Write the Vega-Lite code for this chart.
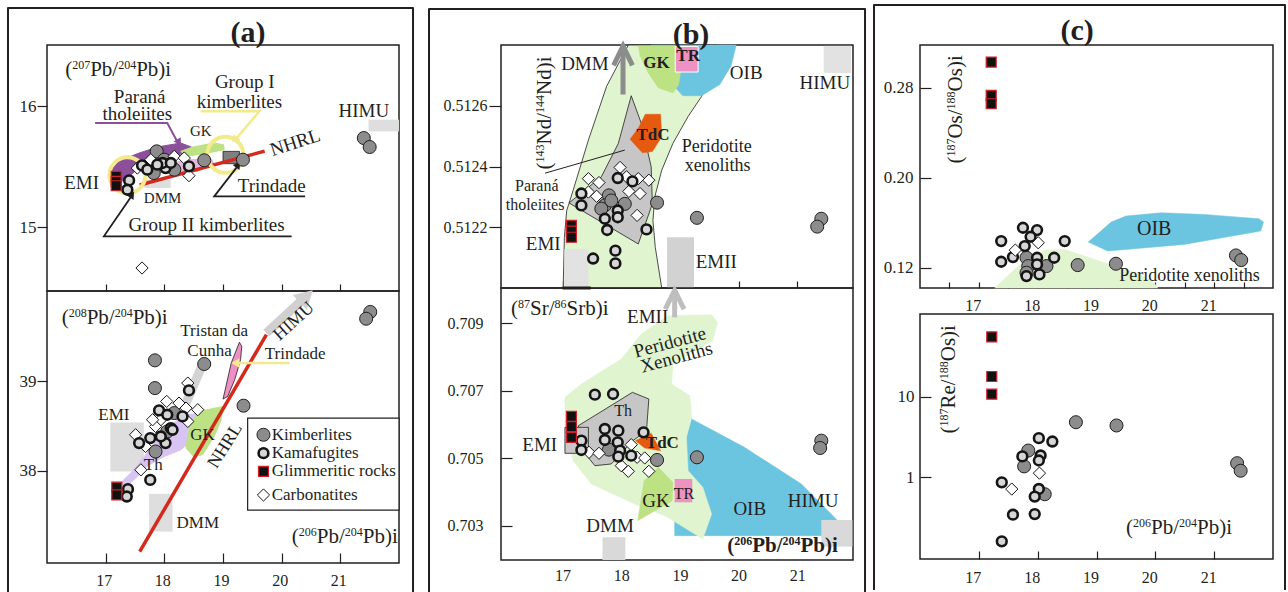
{
"$schema":"https://vega.github.io/schema/vega-lite/v6.json",
"background":"white",
"padding":{"left":6,"top":3,"right":1,"bottom":0},
"config":{
 "font":"Liberation Serif",
 "view":{"stroke":"#231F20","strokeWidth":1.5},
 "axis":{"grid":false,"domain":false,"labelColor":"#231F20","tickColor":"#231F20","tickWidth":1.2,"labelFontSize":16,"labelFont":"Liberation Serif"},
 "text":{"font":"Liberation Serif","fill":"#231F20"}
},
"datasets":{
"aT":[
{"p":"pur","i":0,"x":17.08,"y":15.463},{"p":"pur","i":1,"x":17.22,"y":15.545},{"p":"pur","i":2,"x":17.54,"y":15.609},{"p":"pur","i":3,"x":17.88,"y":15.664},{"p":"pur","i":4,"x":18.28,"y":15.697},{"p":"pur","i":5,"x":18.46,"y":15.664},{"p":"pur","i":6,"x":18.31,"y":15.609},{"p":"pur","i":7,"x":17.94,"y":15.565},{"p":"pur","i":8,"x":17.6,"y":15.504},{"p":"pur","i":9,"x":17.4,"y":15.421},{"p":"pur","i":10,"x":17.19,"y":15.353},{"p":"pur","i":11,"x":17.08,"y":15.38},
{"p":"pink","i":0,"x":17.88,"y":15.504},{"p":"pink","i":1,"x":18.4,"y":15.559},{"p":"pink","i":2,"x":18.8,"y":15.565},{"p":"pink","i":3,"x":18.85,"y":15.526},{"p":"pink","i":4,"x":18.57,"y":15.463},{"p":"pink","i":5,"x":18.05,"y":15.444},
{"p":"gk","i":0,"x":18.28,"y":15.628},{"p":"gk","i":1,"x":18.48,"y":15.664},{"p":"gk","i":2,"x":18.85,"y":15.697},{"p":"gk","i":3,"x":19.01,"y":15.683},{"p":"gk","i":4,"x":19.02,"y":15.642},{"p":"gk","i":5,"x":18.68,"y":15.609},{"p":"gk","i":6,"x":18.37,"y":15.587},
{"r":"gray","x":17.65,"x2":18.11,"y":15.325,"y2":15.394},{"r":"gray","x":21.48,"x2":22.0,"y":15.793,"y2":15.89},{"r":"tri","x":19.0,"x2":19.28,"y":15.526,"y2":15.628},
{"l":"nhrl","i":0,"x":17.58,"y":15.35},{"l":"nhrl","i":1,"x":19.71,"y":15.63},
{"l":"purl","i":0,"x":16.82,"y":15.862},{"l":"purl","i":1,"x":18.05,"y":15.862},{"l":"purl","i":2,"x":18.22,"y":15.71},
{"l":"yel","i":0,"x":18.62,"y":15.959},{"l":"yel","i":1,"x":19.62,"y":15.959},{"l":"yel","i":2,"x":19.22,"y":15.73},
{"l":"trin","i":0,"x":20.4,"y":15.256},{"l":"trin","i":1,"x":18.85,"y":15.256},{"l":"trin","i":2,"x":19.24,"y":15.5},
{"l":"g2","i":0,"x":20.17,"y":14.926},{"l":"g2","i":1,"x":16.97,"y":14.926},{"l":"g2","i":2,"x":17.43,"y":15.25},
{"l":"frame","i":0,"x":15.335,"y":11.978},{"l":"frame","i":1,"x":15.335,"y":16.813},{"l":"frame","i":2,"x":22.239,"y":16.813},{"l":"frame","i":3,"x":22.239,"y":11.978},
{"h":"purl","x":18.25,"y":15.702},{"h":"yel","x":19.2,"y":15.724},{"h":"trin","x":19.26,"y":15.518},{"h":"g2","x":17.45,"y":15.27},
{"e":"emi","x":17.37,"y":15.43},{"e":"g1","x":19.04,"y":15.6},
{"s":"K","x":17.87,"y":15.628},{"s":"K","x":18.68,"y":15.554},{"s":"K","x":19.34,"y":15.559},{"s":"K","x":21.4,"y":15.738},{"s":"K","x":21.5,"y":15.664},{"s":"K","x":17.82,"y":15.449},{"s":"K","x":18.0,"y":15.559},{"s":"K","x":18.17,"y":15.477},
{"s":"M","x":17.4,"y":15.388},{"s":"M","x":17.37,"y":15.311},{"s":"M","x":17.62,"y":15.512},{"s":"M","x":17.71,"y":15.477},{"s":"M","x":18.02,"y":15.49},{"s":"M","x":17.97,"y":15.532},{"s":"M","x":18.42,"y":15.504},{"s":"M","x":17.88,"y":15.518},{"s":"M","x":18.11,"y":15.532},
{"s":"G","x":17.18,"y":15.421},{"s":"G","x":17.18,"y":15.38},{"s":"G","x":17.18,"y":15.344},
{"s":"C","x":17.54,"y":15.49},{"s":"C","x":17.77,"y":15.559},{"s":"C","x":18.17,"y":15.587},{"s":"C","x":18.34,"y":15.573},{"s":"C","x":18.42,"y":15.427},{"s":"C","x":17.62,"y":14.664},
{"k":"pb","t":"(","x":16.31,"y":16.303},{"k":"ps","t":"207","x":16.429,"y":16.303},{"k":"pb","t":"Pb/","x":16.736,"y":16.303},{"k":"ps","t":"204","x":17.213,"y":16.303},{"k":"pb","t":"Pb)i","x":17.52,"y":16.303},
{"k":"lab","t":"Paraná","x":17.58,"y":16.078},{"k":"lab","t":"tholeiites","x":17.54,"y":15.938},{"k":"lab","t":"Group I","x":19.37,"y":16.2},{"k":"lab","t":"kimberlites","x":19.28,"y":16.036},{"k":"lab","t":"HIMU","x":21.4,"y":15.959},{"k":"lab","t":"EMI","x":16.59,"y":15.37},{"k":"lab","t":"Trindade","x":19.83,"y":15.344},{"k":"lab","t":"Group II kimberlites","x":18.72,"y":15.022},
{"k":"sm","t":"GK","x":18.62,"y":15.793},{"k":"sm","t":"DMM","x":17.97,"y":15.242},
{"k":"rot","t":"NHRL","x":20.23,"y":15.7},
{"k":"ttl","t":"(a)","x":19.426,"y":16.61}
],
"aB":[
{"r":"gray","x":17.08,"x2":17.65,"y":37.993,"y2":38.541},{"r":"gray","x":17.74,"x2":18.14,"y":37.321,"y2":37.743},{"r":"leg","x":19.42,"x2":22.0,"y":37.56,"y2":38.59},
{"p":"th","i":0,"x":17.25,"y":37.862},{"p":"th","i":1,"x":17.48,"y":38.011},{"p":"th","i":2,"x":17.68,"y":38.179},{"p":"th","i":3,"x":17.88,"y":38.347},{"p":"th","i":4,"x":18.11,"y":38.515},{"p":"th","i":5,"x":18.37,"y":38.627},{"p":"th","i":6,"x":18.54,"y":38.638},{"p":"th","i":7,"x":18.57,"y":38.571},{"p":"th","i":8,"x":18.42,"y":38.31},{"p":"th","i":9,"x":18.28,"y":38.235},{"p":"th","i":10,"x":18.0,"y":38.16},{"p":"th","i":11,"x":17.71,"y":38.056},{"p":"th","i":12,"x":17.51,"y":37.918},{"p":"th","i":13,"x":17.34,"y":37.817},
{"p":"gk","i":0,"x":18.48,"y":38.571},{"p":"gk","i":1,"x":18.65,"y":38.672},{"p":"gk","i":2,"x":19.0,"y":38.72},{"p":"gk","i":3,"x":18.97,"y":38.571},{"p":"gk","i":4,"x":18.85,"y":38.384},{"p":"gk","i":5,"x":18.65,"y":38.179},{"p":"gk","i":6,"x":18.5,"y":38.16},{"p":"gk","i":7,"x":18.37,"y":38.254},{"p":"gk","i":8,"x":18.42,"y":38.459},
{"p":"trin","i":0,"x":19.0,"y":38.802},{"p":"trin","i":1,"x":19.04,"y":38.914},{"p":"trin","i":2,"x":19.14,"y":39.205},{"p":"trin","i":3,"x":19.28,"y":39.437},{"p":"trin","i":4,"x":19.32,"y":39.392},{"p":"trin","i":5,"x":19.3,"y":39.243},{"p":"trin","i":6,"x":19.2,"y":39.019},{"p":"trin","i":7,"x":19.08,"y":38.832},
{"l":"tdc","i":0,"x":18.37,"y":38.757},{"l":"tdc","i":1,"x":18.65,"y":39.187},
{"l":"himu","i":0,"x":19.74,"y":39.541},{"l":"himu","i":1,"x":20.37,"y":39.922},
{"l":"nhrl","i":0,"x":17.58,"y":37.097},{"l":"nhrl","i":1,"x":19.74,"y":39.522},
{"l":"yel","i":0,"x":20.14,"y":39.205},{"l":"yel","i":1,"x":19.24,"y":39.205},
{"h":"himu","x":20.42,"y":39.95},{"h":"yel","x":19.21,"y":39.205},
{"s":"K","x":17.84,"y":39.235},{"s":"K","x":17.84,"y":38.925},{"s":"K","x":18.68,"y":39.194},{"s":"K","x":19.35,"y":38.728},{"s":"K","x":21.51,"y":39.776},{"s":"K","x":21.44,"y":39.7},{"s":"K","x":18.17,"y":38.646},{"s":"K","x":17.85,"y":38.216},{"s":"K","x":18.05,"y":38.44},{"s":"K","x":19.69,"y":38.403},
{"s":"M","x":18.42,"y":38.899},{"s":"M","x":17.91,"y":38.675},{"s":"M","x":18.05,"y":38.627},{"s":"M","x":18.31,"y":38.608},{"s":"M","x":18.11,"y":38.478},{"s":"M","x":17.76,"y":38.366},{"s":"M","x":17.57,"y":38.31},{"s":"M","x":18.02,"y":38.31},{"s":"M","x":17.94,"y":38.384},{"s":"M","x":17.76,"y":37.899},{"s":"M","x":17.38,"y":37.795},{"s":"M","x":17.36,"y":37.713},{"s":"M","x":18.14,"y":38.459},{"s":"M","x":19.69,"y":38.198},
{"s":"G","x":17.19,"y":37.817},{"s":"G","x":17.19,"y":37.731},{"s":"G","x":19.69,"y":37.993},
{"s":"C","x":18.4,"y":38.981},{"s":"C","x":18.04,"y":38.776},{"s":"C","x":18.25,"y":38.757},{"s":"C","x":18.37,"y":38.701},{"s":"C","x":18.57,"y":38.683},{"s":"C","x":18.4,"y":38.552},{"s":"C","x":17.94,"y":38.571},{"s":"C","x":17.85,"y":38.496},{"s":"C","x":17.51,"y":38.403},{"s":"C","x":17.68,"y":38.272},{"s":"C","x":17.6,"y":38.011},{"s":"C","x":17.8,"y":38.571},{"s":"C","x":19.69,"y":37.73},
{"k":"pb","t":"(","x":16.25,"y":39.709},{"k":"ps","t":"208","x":16.369,"y":39.709},{"k":"pb","t":"Pb/","x":16.676,"y":39.709},{"k":"ps","t":"204","x":17.153,"y":39.709},{"k":"pb","t":"Pb)i","x":17.46,"y":39.709},
{"k":"pb","t":"(","x":20.173,"y":37.265},{"k":"ps","t":"206","x":20.292,"y":37.265},{"k":"pb","t":"Pb/","x":20.599,"y":37.265},{"k":"ps","t":"204","x":21.076,"y":37.265},{"k":"pb","t":"Pb)i","x":21.383,"y":37.265},
{"k":"lab","t":"Tristan da","x":18.85,"y":39.56},{"k":"lab","t":"Cunha","x":18.77,"y":39.336},{"k":"lab","t":"Trindade","x":20.23,"y":39.31},{"k":"lab","t":"GK","x":18.65,"y":38.403},{"k":"lab","t":"EMI","x":17.14,"y":38.627},{"k":"lab","t":"DMM","x":18.57,"y":37.414},{"k":"lab","t":"Th","x":17.81,"y":38.067},
{"k":"leg","t":"Kimberlites","x":19.83,"y":38.403},{"k":"leg","t":"Kamafugites","x":19.83,"y":38.198},{"k":"leg","t":"Glimmeritic rocks","x":19.83,"y":37.993},{"k":"leg","t":"Carbonatites","x":19.83,"y":37.73},
{"k":"rot1","t":"HIMU","x":20.21,"y":39.67},
{"k":"rot2","t":"NHRL","x":19.04,"y":38.28}
],
"bT":[
{"p":"per","i":0,"x":17.01,"y":0.512},{"p":"per","i":1,"x":17.03,"y":0.512167},{"p":"per","i":2,"x":17.07,"y":0.512255},{"p":"per","i":3,"x":17.18,"y":0.512322},{"p":"per","i":4,"x":17.44,"y":0.512487},{"p":"per","i":5,"x":17.75,"y":0.512664},{"p":"per","i":6,"x":18.12,"y":0.5128},{"p":"per","i":7,"x":19.65,"y":0.5128},{"p":"per","i":8,"x":19.37,"y":0.512631},{"p":"per","i":9,"x":19.14,"y":0.512565},{"p":"per","i":10,"x":18.88,"y":0.512476},{"p":"per","i":11,"x":18.69,"y":0.512388},{"p":"per","i":12,"x":18.57,"y":0.512299},{"p":"per","i":13,"x":18.54,"y":0.512222},{"p":"per","i":14,"x":18.58,"y":0.512134},{"p":"per","i":15,"x":18.69,"y":0.512},
{"p":"oib","i":0,"x":18.51,"y":0.5128},{"p":"oib","i":1,"x":19.96,"y":0.5128},{"p":"oib","i":2,"x":19.87,"y":0.51273},{"p":"oib","i":3,"x":19.68,"y":0.51267},{"p":"oib","i":4,"x":19.37,"y":0.512633},{"p":"oib","i":5,"x":19.05,"y":0.512633},{"p":"oib","i":6,"x":18.9,"y":0.512664},{"p":"oib","i":7,"x":18.74,"y":0.512736},{"p":"oib","i":8,"x":18.57,"y":0.512791},
{"p":"gk","i":0,"x":18.29,"y":0.512797},{"p":"gk","i":1,"x":18.92,"y":0.512797},{"p":"gk","i":2,"x":19.03,"y":0.512736},{"p":"gk","i":3,"x":18.98,"y":0.51267},{"p":"gk","i":4,"x":18.88,"y":0.512642},{"p":"gk","i":5,"x":18.63,"y":0.512659},{"p":"gk","i":6,"x":18.46,"y":0.512708},{"p":"gk","i":7,"x":18.32,"y":0.512764},
{"p":"th","i":0,"x":18.17,"y":0.512633},{"p":"th","i":1,"x":18.34,"y":0.512543},{"p":"th","i":2,"x":18.51,"y":0.512399},{"p":"th","i":3,"x":18.53,"y":0.512277},{"p":"th","i":4,"x":18.29,"y":0.512145},{"p":"th","i":5,"x":17.11,"y":0.51228},{"p":"th","i":6,"x":17.66,"y":0.512366},{"p":"th","i":7,"x":17.95,"y":0.512476},
{"p":"tdc","i":0,"x":18.41,"y":0.512572},{"p":"tdc","i":1,"x":18.67,"y":0.512572},{"p":"tdc","i":2,"x":18.69,"y":0.512498},{"p":"tdc","i":3,"x":18.53,"y":0.512449},{"p":"tdc","i":4,"x":18.36,"y":0.512445},{"p":"tdc","i":5,"x":18.15,"y":0.51249},{"p":"tdc","i":6,"x":18.29,"y":0.512526},
{"r":"tr","x":18.92,"x2":19.31,"y":0.512711,"y2":0.512795},
{"r":"gray","x":17.03,"x2":17.44,"y":0.512,"y2":0.512128},{"r":"gray","x":21.45,"x2":21.92,"y":0.512708,"y2":0.512797},
{"r":"dark","x":18.78,"x2":19.24,"y":0.512,"y2":0.512167},
{"l":"dmm","i":0,"x":18.03,"y":0.512637},{"l":"dmm","i":1,"x":18.03,"y":0.512785},
{"l":"dmmc","i":0,"x":17.87,"y":0.512733},{"l":"dmmc","i":1,"x":18.03,"y":0.512797},{"l":"dmmc","i":2,"x":18.19,"y":0.512733},
{"l":"ptr","i":0,"x":16.7,"y":0.512378},{"l":"ptr","i":1,"x":18.06,"y":0.512454},
{"l":"bar","i":0,"x":17.0,"y":0.512},{"l":"bar","i":1,"x":17.48,"y":0.512},
{"l":"frame","i":0,"x":14.723,"y":0.5109926},{"l":"frame","i":1,"x":14.723,"y":0.5129185},{"l":"frame","i":2,"x":22.155,"y":0.5129185},{"l":"frame","i":3,"x":22.155,"y":0.5109926},
{"s":"K","x":18.61,"y":0.512281},{"s":"K","x":19.29,"y":0.512231},{"s":"K","x":21.41,"y":0.512228},{"s":"K","x":21.34,"y":0.512202},{"s":"K","x":17.79,"y":0.512305},{"s":"K","x":17.72,"y":0.512272},{"s":"K","x":18.06,"y":0.512277},{"s":"K","x":17.83,"y":0.512288},{"s":"K","x":17.66,"y":0.512261},
{"s":"M","x":17.32,"y":0.512311},{"s":"M","x":17.32,"y":0.512272},{"s":"M","x":17.94,"y":0.512362},{"s":"M","x":18.19,"y":0.512351},{"s":"M","x":17.94,"y":0.512255},{"s":"M","x":17.94,"y":0.512233},{"s":"M","x":17.72,"y":0.512228},{"s":"M","x":17.76,"y":0.512191},{"s":"M","x":18.43,"y":0.512193},{"s":"M","x":17.52,"y":0.512097},{"s":"M","x":17.9,"y":0.512123},{"s":"M","x":17.9,"y":0.512081},
{"s":"G","x":17.15,"y":0.512206},{"s":"G","x":17.15,"y":0.512187},{"s":"G","x":17.15,"y":0.512167},
{"s":"C","x":17.44,"y":0.51236},{"s":"C","x":17.62,"y":0.512347},{"s":"C","x":17.44,"y":0.512316},{"s":"C","x":17.58,"y":0.512302},{"s":"C","x":17.98,"y":0.512397},{"s":"C","x":18.09,"y":0.512366},{"s":"C","x":18.13,"y":0.512318},{"s":"C","x":18.32,"y":0.512311},{"s":"C","x":18.47,"y":0.512355},{"s":"C","x":18.29,"y":0.51236},{"s":"C","x":18.27,"y":0.512239},
{"k":"rb","t":"(","x":16.7,"y":0.51239},{"k":"rs","t":"143","x":16.7,"y":0.512413},{"k":"rb","t":"Nd/","x":16.7,"y":0.5124723},{"k":"rs","t":"144","x":16.7,"y":0.512576},{"k":"rb","t":"Nd)i","x":16.7,"y":0.5126353},
{"k":"lab","t":"DMM","x":17.38,"y":0.512736},{"k":"lab","t":"OIB","x":20.13,"y":0.512708},{"k":"lab","t":"HIMU","x":21.47,"y":0.512675},{"k":"lab","t":"EMI","x":16.67,"y":0.512145},{"k":"lab","t":"EMII","x":19.62,"y":0.512084},
{"k":"bold","t":"GK","x":18.6,"y":0.512741},{"k":"bold","t":"TR","x":19.14,"y":0.512764},{"k":"bold","t":"TdC","x":18.54,"y":0.512504},
{"k":"labl","t":"Peridotite","x":19.03,"y":0.512463},{"k":"labl","t":"xenoliths","x":19.08,"y":0.512402},
{"k":"sm","t":"Paraná","x":16.56,"y":0.512336},{"k":"sm","t":"tholeiites","x":16.53,"y":0.512274},
{"k":"ttl","t":"(b)","x":19.189,"y":0.512833}
],
"bB":[
{"p":"oib","i":0,"x":19.2,"y":0.706164},{"p":"oib","i":1,"x":20.1,"y":0.705323},{"p":"oib","i":2,"x":21.07,"y":0.704236},{"p":"oib","i":3,"x":21.69,"y":0.703148},{"p":"oib","i":4,"x":21.69,"y":0.702703},{"p":"oib","i":5,"x":18.91,"y":0.702703},{"p":"oib","i":6,"x":18.91,"y":0.70384},{"p":"oib","i":7,"x":19.11,"y":0.704631},{"p":"oib","i":8,"x":19.11,"y":0.70562},
{"p":"per","i":0,"x":17.04,"y":0.706806},{"p":"per","i":1,"x":17.32,"y":0.707202},{"p":"per","i":2,"x":18.0,"y":0.707943},{"p":"per","i":3,"x":18.34,"y":0.708684},{"p":"per","i":4,"x":18.8,"y":0.709228},{"p":"per","i":5,"x":19.54,"y":0.709258},{"p":"per","i":6,"x":19.64,"y":0.70903},{"p":"per","i":7,"x":19.56,"y":0.708487},{"p":"per","i":8,"x":19.25,"y":0.70819},{"p":"per","i":9,"x":18.88,"y":0.707795},{"p":"per","i":10,"x":18.86,"y":0.707202},{"p":"per","i":11,"x":19.17,"y":0.706856},{"p":"per","i":12,"x":19.2,"y":0.706213},{"p":"per","i":13,"x":19.11,"y":0.70562},{"p":"per","i":14,"x":19.14,"y":0.704631},{"p":"per","i":15,"x":19.39,"y":0.704137},{"p":"per","i":16,"x":19.54,"y":0.703346},{"p":"per","i":17,"x":19.39,"y":0.702605},{"p":"per","i":18,"x":18.74,"y":0.703297},{"p":"per","i":19,"x":18.23,"y":0.703643},{"p":"per","i":20,"x":17.49,"y":0.704236},{"p":"per","i":21,"x":17.18,"y":0.704928},{"p":"per","i":22,"x":17.04,"y":0.705916},
{"p":"gk","i":0,"x":18.28,"y":0.703148},{"p":"gk","i":1,"x":18.39,"y":0.704335},{"p":"gk","i":2,"x":18.63,"y":0.70473},{"p":"gk","i":3,"x":18.88,"y":0.704285},{"p":"gk","i":4,"x":18.87,"y":0.703741},
{"p":"th","i":0,"x":17.27,"y":0.705966},{"p":"th","i":1,"x":18.19,"y":0.706954},{"p":"th","i":2,"x":18.47,"y":0.706757},{"p":"th","i":3,"x":18.43,"y":0.705817},{"p":"th","i":4,"x":18.2,"y":0.705521},{"p":"th","i":5,"x":17.83,"y":0.704829},{"p":"th","i":6,"x":17.55,"y":0.704779},{"p":"th","i":7,"x":17.32,"y":0.705274},
{"p":"tdc","i":0,"x":18.24,"y":0.705521},{"p":"tdc","i":1,"x":18.51,"y":0.705738},{"p":"tdc","i":2,"x":18.67,"y":0.705224},{"p":"tdc","i":3,"x":18.4,"y":0.705303},
{"r":"tr","x":18.91,"x2":19.21,"y":0.703692,"y2":0.704384},
{"r":"emi","x":17.04,"x2":17.44,"y":0.705145,"y2":0.705916},
{"r":"gray","x":17.68,"x2":18.07,"y":0.70198,"y2":0.702654},{"r":"gray","x":21.41,"x2":21.94,"y":0.702377,"y2":0.703168},
{"l":"emii","i":0,"x":18.91,"y":0.709179},{"l":"emii","i":1,"x":18.91,"y":0.70995},
{"l":"emiic","i":0,"x":18.75,"y":0.709426},{"l":"emiic","i":1,"x":18.91,"y":0.70998},{"l":"emiic","i":2,"x":19.07,"y":0.709426},
{"s":"K","x":17.79,"y":0.705254},{"s":"K","x":18.61,"y":0.704948},{"s":"K","x":19.29,"y":0.705027},{"s":"K","x":21.41,"y":0.705521},{"s":"K","x":21.39,"y":0.705303},
{"s":"M","x":17.55,"y":0.706885},{"s":"M","x":17.86,"y":0.706905},{"s":"M","x":17.72,"y":0.705867},{"s":"M","x":17.95,"y":0.705817},{"s":"M","x":18.38,"y":0.705768},{"s":"M","x":17.32,"y":0.705521},{"s":"M","x":17.32,"y":0.705244},{"s":"M","x":17.72,"y":0.705541},{"s":"M","x":17.94,"y":0.705472},{"s":"M","x":17.98,"y":0.705224},{"s":"M","x":17.95,"y":0.705046},{"s":"M","x":18.17,"y":0.705076},
{"s":"G","x":17.15,"y":0.706243},{"s":"G","x":17.15,"y":0.705936},{"s":"G","x":17.15,"y":0.70562},
{"s":"C","x":17.45,"y":0.705175},{"s":"C","x":17.62,"y":0.705145},{"s":"C","x":18.17,"y":0.705402},{"s":"C","x":18.27,"y":0.705027},{"s":"C","x":18.4,"y":0.705007},{"s":"C","x":18.0,"y":0.704779},{"s":"C","x":18.12,"y":0.704611},{"s":"C","x":18.47,"y":0.704611},
{"k":"pb","t":"(","x":16.12,"y":0.709426},{"k":"ps","t":"87","x":16.239,"y":0.709426},{"k":"pb","t":"Sr/","x":16.444,"y":0.709426},{"k":"ps","t":"86","x":16.862,"y":0.709426},{"k":"pb","t":"Srb)i","x":17.066,"y":0.709426},
{"k":"pbb","t":"(","x":19.805,"y":0.702407},{"k":"psb","t":"206","x":19.924,"y":0.702407},{"k":"pbb","t":"Pb/","x":20.231,"y":0.702407},{"k":"psb","t":"204","x":20.748,"y":0.702407},{"k":"pbb","t":"Pb)i","x":21.054,"y":0.702407},
{"k":"lab","t":"EMII","x":18.45,"y":0.709179},{"k":"lab","t":"EMI","x":16.61,"y":0.705402},{"k":"lab","t":"GK","x":18.59,"y":0.703722},{"k":"lab","t":"OIB","x":20.19,"y":0.703494},{"k":"lab","t":"HIMU","x":21.27,"y":0.703741},{"k":"lab","t":"DMM","x":17.81,"y":0.703},
{"k":"sm","t":"Th","x":18.03,"y":0.706391},{"k":"sm","t":"TR","x":19.07,"y":0.703939},
{"k":"bold","t":"TdC","x":18.7,"y":0.705442},
{"k":"rot","t":"Peridotite","x":18.83,"y":0.708437},{"k":"rot","t":"Xenoliths","x":18.94,"y":0.707992}
],
"cT":[
{"p":"per","i":0,"x":17.27,"y":0.102},{"p":"per","i":1,"x":17.67,"y":0.12148},{"p":"per","i":2,"x":18.12,"y":0.1357},{"p":"per","i":3,"x":18.46,"y":0.1363},{"p":"per","i":4,"x":19.14,"y":0.12444},{"p":"per","i":5,"x":19.7,"y":0.11496},{"p":"per","i":6,"x":19.98,"y":0.10667},{"p":"per","i":7,"x":20.04,"y":0.102},
{"p":"oib","i":0,"x":18.86,"y":0.14282},{"p":"oib","i":1,"x":19.25,"y":0.16059},{"p":"oib","i":2,"x":19.5,"y":0.16593},{"p":"oib","i":3,"x":20.1,"y":0.16889},{"p":"oib","i":4,"x":20.83,"y":0.16741},{"p":"oib","i":5,"x":21.76,"y":0.16356},{"p":"oib","i":6,"x":21.84,"y":0.16059},{"p":"oib","i":7,"x":21.79,"y":0.15259},{"p":"oib","i":8,"x":20.49,"y":0.14074},{"p":"oib","i":9,"x":19.19,"y":0.13481},
{"l":"frame","i":0,"x":15.218,"y":-0.16644},{"l":"frame","i":1,"x":15.218,"y":0.35356},{"l":"frame","i":2,"x":22.204,"y":0.35356},{"l":"frame","i":3,"x":22.204,"y":-0.16644},
{"s":"G","x":17.21,"y":0.30282},{"s":"G","x":17.21,"y":0.27319},{"s":"G","x":17.21,"y":0.26578},
{"s":"K","x":18.68,"y":0.12237},{"s":"K","x":19.33,"y":0.12356},{"s":"K","x":21.37,"y":0.13096},{"s":"K","x":21.46,"y":0.12681},{"s":"K","x":17.81,"y":0.12889},{"s":"K","x":17.84,"y":0.12148},{"s":"K","x":18.15,"y":0.12148},{"s":"K","x":17.81,"y":0.11556},
{"s":"M","x":17.38,"y":0.1437},{"s":"M","x":17.75,"y":0.15556},{"s":"M","x":17.99,"y":0.15348},{"s":"M","x":18.46,"y":0.1437},{"s":"M","x":17.78,"y":0.13926},{"s":"M","x":17.38,"y":0.12533},{"s":"M","x":17.58,"y":0.12948},{"s":"M","x":17.99,"y":0.12889},{"s":"M","x":18.28,"y":0.12889},{"s":"M","x":17.99,"y":0.12296},{"s":"M","x":18.03,"y":0.11407},{"s":"M","x":17.81,"y":0.11259},{"s":"M","x":17.88,"y":0.14756},
{"s":"C","x":17.62,"y":0.1357},{"s":"C","x":18.01,"y":0.14222},
{"k":"rb","t":"(","x":16.62,"y":0.21256},{"k":"rs","t":"187","x":16.62,"y":0.21878},{"k":"rb","t":"Os/","x":16.62,"y":0.23478},{"k":"rs","t":"188","x":16.62,"y":0.26074},{"k":"rb","t":"Os)i","x":16.62,"y":0.27674},
{"k":"lab","t":"OIB","x":19.98,"y":0.15407},
{"k":"sm","t":"Peridotite xenoliths","x":20.58,"y":0.11259},
{"k":"ttl","t":"(c)","x":18.669,"y":0.33044}
],
"cB":[
{"s":"K","x":18.65,"y":4.82},{"s":"K","x":19.34,"y":4.39},{"s":"K","x":21.39,"y":1.5},{"s":"K","x":21.45,"y":1.21},{"s":"K","x":17.84,"y":2.15},{"s":"K","x":17.77,"y":1.37},{"s":"K","x":18.12,"y":0.62},
{"s":"M","x":18.02,"y":3.06},{"s":"M","x":18.25,"y":2.78},{"s":"M","x":17.74,"y":1.82},{"s":"M","x":18.05,"y":1.87},{"s":"M","x":18.02,"y":1.62},{"s":"M","x":17.39,"y":0.87},{"s":"M","x":18.02,"y":0.72},{"s":"M","x":17.95,"y":0.58},{"s":"M","x":17.58,"y":0.346},{"s":"M","x":17.95,"y":0.352},{"s":"M","x":17.39,"y":0.162},
{"s":"G","x":17.22,"y":54.6},{"s":"G","x":17.22,"y":17.7},{"s":"G","x":17.22,"y":10.7},
{"s":"C","x":17.56,"y":0.718},{"s":"C","x":18.03,"y":1.13},
{"k":"rb","t":"(","x":16.49,"y":3.499},{"k":"rs","t":"187","x":16.49,"y":4.272},{"k":"rb","t":"Re/","x":16.49,"y":7.129},{"k":"rs","t":"188","x":16.49,"y":16.37},{"k":"rb","t":"Os)i","x":16.49,"y":27.33},
{"k":"pb","t":"(","x":19.503,"y":0.237},{"k":"ps","t":"206","x":19.622,"y":0.237},{"k":"pb","t":"Pb/","x":19.928,"y":0.237},{"k":"ps","t":"204","x":20.404,"y":0.237},{"k":"pb","t":"Pb)i","x":20.71,"y":0.237}
]
},
"hconcat":[
{"hconcat":[
 {"vconcat":[
  {"width":352,"height":246,"data":{"name":"aT"},
   "encoding":{
    "x":{"field":"x","type":"quantitative","title":null,"scale":{"domain":[16,22],"nice":false,"zero":false},"axis":{"values":[17,18,19,20,21],"labels":false,"tickSize":-7}},
    "y":{"field":"y","type":"quantitative","title":null,"scale":{"domain":[14.474,16.507],"nice":false,"zero":false},"axis":{"values":[15,16],"tickSize":10,"labelPadding":1,"labelFontSize":17}}},
   "layer":[
    {"transform":[{"filter":"datum.p==='pur'"}],"mark":{"type":"line","interpolate":"linear-closed","fill":"#8C4F9A","stroke":"#8C4F9A","strokeWidth":1},"encoding":{"order":{"field":"i","type":"quantitative"}}},
    {"transform":[{"filter":"datum.p==='pink'"}],"mark":{"type":"line","interpolate":"linear-closed","fill":"#E6B8E0","stroke":"#E6B8E0","strokeWidth":1},"encoding":{"order":{"field":"i","type":"quantitative"}}},
    {"transform":[{"filter":"datum.p==='gk'"}],"mark":{"type":"line","interpolate":"linear-closed","fill":"#BDE283","stroke":"#BDE283","strokeWidth":1},"encoding":{"order":{"field":"i","type":"quantitative"}}},
    {"transform":[{"filter":"datum.r==='gray'"}],"mark":{"type":"rect","fill":"#DEDEDE"},"encoding":{"x2":{"field":"x2"},"y2":{"field":"y2"}}},
    {"transform":[{"filter":"datum.r==='tri'"}],"mark":{"type":"rect","fill":"#808080","stroke":"#231F20","strokeWidth":0.8},"encoding":{"x2":{"field":"x2"},"y2":{"field":"y2"}}},
    {"transform":[{"filter":"datum.l==='nhrl'"}],"mark":{"type":"line","stroke":"#D42A1E","strokeWidth":3.5},"encoding":{"order":{"field":"i","type":"quantitative"}}},
    {"transform":[{"filter":"datum.e"}],"mark":{"type":"point","shape":"circle","filled":false,"stroke":"#F2EA8C","strokeWidth":4,"size":1300,"opacity":1}},
    {"transform":[{"filter":"datum.l==='purl'"}],"mark":{"type":"line","stroke":"#8C4F9A","strokeWidth":2},"encoding":{"order":{"field":"i","type":"quantitative"}}},
    {"transform":[{"filter":"datum.l==='yel'"}],"mark":{"type":"line","stroke":"#F2EA8C","strokeWidth":2.5},"encoding":{"order":{"field":"i","type":"quantitative"}}},
    {"transform":[{"filter":"datum.l==='trin'||datum.l==='g2'"}],"mark":{"type":"line","stroke":"#231F20","strokeWidth":1.8},"encoding":{"detail":{"field":"l"},"order":{"field":"i","type":"quantitative"}}},
    {"transform":[{"filter":"datum.l==='frame'"}],"mark":{"type":"line","stroke":"#231F20","strokeWidth":2,"strokeJoin":"round"},"encoding":{"order":{"field":"i","type":"quantitative"}}},
    {"transform":[{"filter":"datum.h==='purl'"}],"mark":{"type":"point","shape":"triangle-up","filled":true,"fill":"#8C4F9A","strokeWidth":0,"size":70,"angle":149,"opacity":1}},
    {"transform":[{"filter":"datum.h==='yel'"}],"mark":{"type":"point","shape":"triangle-up","filled":true,"fill":"#F2EA8C","strokeWidth":0,"size":70,"angle":221,"opacity":1}},
    {"transform":[{"filter":"datum.h==='trin'"}],"mark":{"type":"point","shape":"triangle-up","filled":true,"fill":"#231F20","strokeWidth":0,"size":70,"angle":37,"opacity":1}},
    {"transform":[{"filter":"datum.h==='g2'"}],"mark":{"type":"point","shape":"triangle-up","filled":true,"fill":"#231F20","strokeWidth":0,"size":70,"angle":34,"opacity":1}},
    {"transform":[{"filter":"datum.s==='K'"}],"mark":{"type":"point","shape":"circle","filled":true,"fill":"#8C8C8C","stroke":"#231F20","strokeWidth":1,"size":170,"opacity":1}},
    {"transform":[{"filter":"datum.s==='C'"}],"mark":{"type":"point","shape":"diamond","filled":true,"fill":"#FFFFFF","stroke":"#151515","strokeWidth":1,"size":150,"opacity":1}},
    {"transform":[{"filter":"datum.s==='M'"}],"mark":{"type":"point","shape":"circle","filled":true,"fill":"#D6D6D6","stroke":"#151515","strokeWidth":2.6,"size":95,"opacity":1}},
    {"transform":[{"filter":"datum.s==='G'"}],"mark":{"type":"point","shape":"square","filled":true,"fill":"#111111","stroke":"#D0202A","strokeWidth":1.2,"size":100,"opacity":1}},
    {"transform":[{"filter":"datum.k==='pb'"}],"mark":{"type":"text","fontSize":21,"align":"left","baseline":"middle"},"encoding":{"text":{"field":"t"}}},
    {"transform":[{"filter":"datum.k==='ps'"}],"mark":{"type":"text","fontSize":12,"align":"left","baseline":"middle","dy":-5},"encoding":{"text":{"field":"t"}}},
    {"transform":[{"filter":"datum.k==='lab'"}],"mark":{"type":"text","fontSize":19,"align":"center","baseline":"middle"},"encoding":{"text":{"field":"t"}}},
    {"transform":[{"filter":"datum.k==='sm'"}],"mark":{"type":"text","fontSize":15,"align":"center","baseline":"middle"},"encoding":{"text":{"field":"t"}}},
    {"transform":[{"filter":"datum.k==='rot'"}],"mark":{"type":"text","fontSize":19,"align":"center","baseline":"middle","angle":342},"encoding":{"text":{"field":"t"}}},
    {"transform":[{"filter":"datum.k==='ttl'"}],"mark":{"type":"text","fontSize":30,"fontWeight":"bold","align":"center","baseline":"middle"},"encoding":{"text":{"field":"t"}}}
   ]},
  {"width":352,"height":272,"data":{"name":"aB"},
   "encoding":{
    "x":{"field":"x","type":"quantitative","title":null,"scale":{"domain":[16,22],"nice":false,"zero":false},"axis":{"values":[17,18,19,20,21],"tickSize":-10,"labelPadding":19,"labelOffset":-2}},
    "y":{"field":"y","type":"quantitative","title":null,"scale":{"domain":[36.97,40.01],"nice":false,"zero":false},"axis":{"values":[38,39],"tickSize":10,"labelPadding":1,"labelFontSize":17}}},
   "layer":[
    {"transform":[{"filter":"datum.r==='gray'"}],"mark":{"type":"rect","fill":"#DEDEDE"},"encoding":{"x2":{"field":"x2"},"y2":{"field":"y2"}}},
    {"transform":[{"filter":"datum.p==='th'"}],"mark":{"type":"line","interpolate":"linear-closed","fill":"#D8C4F3","stroke":"#D8C4F3","strokeWidth":1},"encoding":{"order":{"field":"i","type":"quantitative"}}},
    {"transform":[{"filter":"datum.l==='tdc'"}],"mark":{"type":"line","stroke":"#D3D3D3","strokeWidth":9},"encoding":{"order":{"field":"i","type":"quantitative"}}},
    {"transform":[{"filter":"datum.p==='trin'"}],"mark":{"type":"line","interpolate":"linear-closed","fill":"#EE90C4","stroke":"#231F20","strokeWidth":0.8},"encoding":{"order":{"field":"i","type":"quantitative"}}},
    {"transform":[{"filter":"datum.p==='gk'"}],"mark":{"type":"line","interpolate":"linear-closed","fill":"#BDE283","stroke":"#BDE283","strokeWidth":1},"encoding":{"order":{"field":"i","type":"quantitative"}}},
    {"transform":[{"filter":"datum.l==='himu'"}],"mark":{"type":"line","stroke":"#D0D0D0","strokeWidth":9},"encoding":{"order":{"field":"i","type":"quantitative"}}},
    {"transform":[{"filter":"datum.h==='himu'"}],"mark":{"type":"point","shape":"triangle-up","filled":true,"fill":"#D0D0D0","strokeWidth":0,"size":420,"angle":47,"opacity":1}},
    {"transform":[{"filter":"datum.l==='nhrl'"}],"mark":{"type":"line","stroke":"#D42A1E","strokeWidth":3.5},"encoding":{"order":{"field":"i","type":"quantitative"}}},
    {"transform":[{"filter":"datum.l==='yel'"}],"mark":{"type":"line","stroke":"#F2EA8C","strokeWidth":2.5},"encoding":{"order":{"field":"i","type":"quantitative"}}},
    {"transform":[{"filter":"datum.h==='yel'"}],"mark":{"type":"point","shape":"triangle-left","filled":true,"fill":"#F2EA8C","strokeWidth":0,"size":90,"opacity":1}},
    {"transform":[{"filter":"datum.r==='leg'"}],"mark":{"type":"rect","fill":"#FFFFFF","stroke":"#231F20","strokeWidth":1.2},"encoding":{"x2":{"field":"x2"},"y2":{"field":"y2"}}},
    {"transform":[{"filter":"datum.s==='K'"}],"mark":{"type":"point","shape":"circle","filled":true,"fill":"#8C8C8C","stroke":"#231F20","strokeWidth":1,"size":170,"opacity":1}},
    {"transform":[{"filter":"datum.s==='C'"}],"mark":{"type":"point","shape":"diamond","filled":true,"fill":"#FFFFFF","stroke":"#151515","strokeWidth":1,"size":150,"opacity":1}},
    {"transform":[{"filter":"datum.s==='M'"}],"mark":{"type":"point","shape":"circle","filled":true,"fill":"#D6D6D6","stroke":"#151515","strokeWidth":2.6,"size":95,"opacity":1}},
    {"transform":[{"filter":"datum.s==='G'"}],"mark":{"type":"point","shape":"square","filled":true,"fill":"#111111","stroke":"#D0202A","strokeWidth":1.2,"size":100,"opacity":1}},
    {"transform":[{"filter":"datum.k==='pb'"}],"mark":{"type":"text","fontSize":21,"align":"left","baseline":"middle"},"encoding":{"text":{"field":"t"}}},
    {"transform":[{"filter":"datum.k==='ps'"}],"mark":{"type":"text","fontSize":12,"align":"left","baseline":"middle","dy":-5},"encoding":{"text":{"field":"t"}}},
    {"transform":[{"filter":"datum.k==='lab'"}],"mark":{"type":"text","fontSize":17,"align":"center","baseline":"middle"},"encoding":{"text":{"field":"t"}}},
    {"transform":[{"filter":"datum.k==='leg'"}],"mark":{"type":"text","fontSize":17,"align":"left","baseline":"middle"},"encoding":{"text":{"field":"t"}}},
    {"transform":[{"filter":"datum.k==='rot1'"}],"mark":{"type":"text","fontSize":18,"align":"center","baseline":"middle","angle":318},"encoding":{"text":{"field":"t"}}},
    {"transform":[{"filter":"datum.k==='rot2'"}],"mark":{"type":"text","fontSize":18,"align":"center","baseline":"middle","angle":302},"encoding":{"text":{"field":"t"}}}
   ]}
 ],"spacing":0,"bounds":"flush"},
 {"vconcat":[
  {"width":352,"height":243,"data":{"name":"bT"},
   "encoding":{
    "x":{"field":"x","type":"quantitative","title":null,"scale":{"domain":[15.95,21.95],"nice":false,"zero":false},"axis":{"values":[17,18,19,20,21],"labels":false,"tickSize":-7}},
    "y":{"field":"y","type":"quantitative","title":null,"scale":{"domain":[0.512,0.5128],"nice":false,"zero":false},"axis":{"values":[0.5122,0.5124,0.5126],"format":".4f","tickSize":12,"labelPadding":2}}},
   "layer":[
    {"transform":[{"filter":"datum.p==='per'"}],"mark":{"type":"line","interpolate":"linear-closed","fill":"#DFF4CF","stroke":"#231F20","strokeWidth":0.8},"encoding":{"order":{"field":"i","type":"quantitative"}}},
    {"transform":[{"filter":"datum.p==='oib'"}],"mark":{"type":"line","interpolate":"linear-closed","fill":"#6BC5E1","stroke":"#6BC5E1","strokeWidth":0.5},"encoding":{"order":{"field":"i","type":"quantitative"}}},
    {"transform":[{"filter":"datum.p==='gk'"}],"mark":{"type":"line","interpolate":"linear-closed","fill":"#BDE283","stroke":"#BDE283","strokeWidth":0.5},"encoding":{"order":{"field":"i","type":"quantitative"}}},
    {"transform":[{"filter":"datum.r==='tr'"}],"mark":{"type":"rect","fill":"#EE91C3","stroke":"#FFFFFF","strokeWidth":1},"encoding":{"x2":{"field":"x2"},"y2":{"field":"y2"}}},
    {"transform":[{"filter":"datum.r==='gray'"}],"mark":{"type":"rect","fill":"#E2E2E2"},"encoding":{"x2":{"field":"x2"},"y2":{"field":"y2"}}},
    {"transform":[{"filter":"datum.r==='dark'"}],"mark":{"type":"rect","fill":"#D2D2D2"},"encoding":{"x2":{"field":"x2"},"y2":{"field":"y2"}}},
    {"transform":[{"filter":"datum.p==='th'"}],"mark":{"type":"line","interpolate":"linear-closed","fill":"#C6C6C6","stroke":"#231F20","strokeWidth":0.8},"encoding":{"order":{"field":"i","type":"quantitative"}}},
    {"transform":[{"filter":"datum.p==='tdc'"}],"mark":{"type":"line","interpolate":"linear-closed","fill":"#E65A10","stroke":"#E65A10","strokeWidth":0.5},"encoding":{"order":{"field":"i","type":"quantitative"}}},
    {"transform":[{"filter":"datum.l==='dmm'||datum.l==='dmmc'"}],"mark":{"type":"line","stroke":"#8C8C8C","strokeWidth":5},"encoding":{"detail":{"field":"l"},"order":{"field":"i","type":"quantitative"}}},
    {"transform":[{"filter":"datum.l==='ptr'"}],"mark":{"type":"line","stroke":"#231F20","strokeWidth":1},"encoding":{"order":{"field":"i","type":"quantitative"}}},
    {"transform":[{"filter":"datum.l==='bar'"}],"mark":{"type":"line","stroke":"#231F20","strokeWidth":3},"encoding":{"order":{"field":"i","type":"quantitative"}}},
    {"transform":[{"filter":"datum.l==='frame'"}],"mark":{"type":"line","stroke":"#231F20","strokeWidth":2,"strokeJoin":"round"},"encoding":{"order":{"field":"i","type":"quantitative"}}},
    {"transform":[{"filter":"datum.s==='K'"}],"mark":{"type":"point","shape":"circle","filled":true,"fill":"#8C8C8C","stroke":"#231F20","strokeWidth":1,"size":170,"opacity":1}},
    {"transform":[{"filter":"datum.s==='C'"}],"mark":{"type":"point","shape":"diamond","filled":true,"fill":"#FFFFFF","stroke":"#151515","strokeWidth":1,"size":150,"opacity":1}},
    {"transform":[{"filter":"datum.s==='M'"}],"mark":{"type":"point","shape":"circle","filled":true,"fill":"#D6D6D6","stroke":"#151515","strokeWidth":2.6,"size":95,"opacity":1}},
    {"transform":[{"filter":"datum.s==='G'"}],"mark":{"type":"point","shape":"square","filled":true,"fill":"#111111","stroke":"#D0202A","strokeWidth":1.2,"size":100,"opacity":1}},
    {"transform":[{"filter":"datum.k==='rb'"}],"mark":{"type":"text","fontSize":21,"align":"left","baseline":"middle","angle":270},"encoding":{"text":{"field":"t"}}},
    {"transform":[{"filter":"datum.k==='rs'"}],"mark":{"type":"text","fontSize":12,"align":"left","baseline":"middle","angle":270,"dy":-5},"encoding":{"text":{"field":"t"}}},
    {"transform":[{"filter":"datum.k==='lab'"}],"mark":{"type":"text","fontSize":19,"align":"center","baseline":"middle"},"encoding":{"text":{"field":"t"}}},
    {"transform":[{"filter":"datum.k==='bold'"}],"mark":{"type":"text","fontSize":17,"fontWeight":"bold","align":"center","baseline":"middle"},"encoding":{"text":{"field":"t"}}},
    {"transform":[{"filter":"datum.k==='labl'"}],"mark":{"type":"text","fontSize":18,"align":"left","baseline":"middle"},"encoding":{"text":{"field":"t"}}},
    {"transform":[{"filter":"datum.k==='sm'"}],"mark":{"type":"text","fontSize":16,"align":"center","baseline":"middle"},"encoding":{"text":{"field":"t"}}},
    {"transform":[{"filter":"datum.k==='ttl'"}],"mark":{"type":"text","fontSize":30,"fontWeight":"bold","align":"center","baseline":"middle"},"encoding":{"text":{"field":"t"}}}
   ]},
  {"width":352,"height":272,"data":{"name":"bB"},
   "encoding":{
    "x":{"field":"x","type":"quantitative","title":null,"scale":{"domain":[15.95,21.95],"nice":false,"zero":false},"axis":{"values":[17,18,19,20,21],"ticks":false,"labelPadding":7}},
    "y":{"field":"y","type":"quantitative","title":null,"scale":{"domain":[0.70198,0.71005],"nice":false,"zero":false},"axis":{"values":[0.703,0.705,0.707,0.709],"format":".3f","tickSize":-11,"labelPadding":29}}},
   "layer":[
    {"transform":[{"filter":"datum.p==='oib'"}],"mark":{"type":"line","interpolate":"linear-closed","fill":"#6BC5E1","stroke":"#6BC5E1","strokeWidth":0.5},"encoding":{"order":{"field":"i","type":"quantitative"}}},
    {"transform":[{"filter":"datum.p==='per'"}],"mark":{"type":"line","interpolate":"linear-closed","fill":"#DFF4CF","stroke":"#DFF4CF","strokeWidth":0.5},"encoding":{"order":{"field":"i","type":"quantitative"}}},
    {"transform":[{"filter":"datum.p==='gk'"}],"mark":{"type":"line","interpolate":"linear-closed","fill":"#BDE283","stroke":"#BDE283","strokeWidth":0.5},"encoding":{"order":{"field":"i","type":"quantitative"}}},
    {"transform":[{"filter":"datum.r==='tr'"}],"mark":{"type":"rect","fill":"#EE91C3"},"encoding":{"x2":{"field":"x2"},"y2":{"field":"y2"}}},
    {"transform":[{"filter":"datum.p==='th'"}],"mark":{"type":"line","interpolate":"linear-closed","fill":"#C6C6C6","stroke":"#231F20","strokeWidth":0.8},"encoding":{"order":{"field":"i","type":"quantitative"}}},
    {"transform":[{"filter":"datum.p==='tdc'"}],"mark":{"type":"line","interpolate":"linear-closed","fill":"#E65A10","stroke":"#E65A10","strokeWidth":0.5},"encoding":{"order":{"field":"i","type":"quantitative"}}},
    {"transform":[{"filter":"datum.r==='emi'"}],"mark":{"type":"rect","fill":"#C8C8C8","stroke":"#231F20","strokeWidth":0.8},"encoding":{"x2":{"field":"x2"},"y2":{"field":"y2"}}},
    {"transform":[{"filter":"datum.r==='gray'"}],"mark":{"type":"rect","fill":"#D9D9D9"},"encoding":{"x2":{"field":"x2"},"y2":{"field":"y2"}}},
    {"transform":[{"filter":"datum.l==='emii'||datum.l==='emiic'"}],"mark":{"type":"line","stroke":"#BEBEBE","strokeWidth":5},"encoding":{"detail":{"field":"l"},"order":{"field":"i","type":"quantitative"}}},
    {"transform":[{"filter":"datum.s==='K'"}],"mark":{"type":"point","shape":"circle","filled":true,"fill":"#8C8C8C","stroke":"#231F20","strokeWidth":1,"size":170,"opacity":1}},
    {"transform":[{"filter":"datum.s==='C'"}],"mark":{"type":"point","shape":"diamond","filled":true,"fill":"#FFFFFF","stroke":"#151515","strokeWidth":1,"size":150,"opacity":1}},
    {"transform":[{"filter":"datum.s==='M'"}],"mark":{"type":"point","shape":"circle","filled":true,"fill":"#D6D6D6","stroke":"#151515","strokeWidth":2.6,"size":95,"opacity":1}},
    {"transform":[{"filter":"datum.s==='G'"}],"mark":{"type":"point","shape":"square","filled":true,"fill":"#111111","stroke":"#D0202A","strokeWidth":1.2,"size":100,"opacity":1}},
    {"transform":[{"filter":"datum.k==='pb'"}],"mark":{"type":"text","fontSize":21,"align":"left","baseline":"middle"},"encoding":{"text":{"field":"t"}}},
    {"transform":[{"filter":"datum.k==='ps'"}],"mark":{"type":"text","fontSize":12,"align":"left","baseline":"middle","dy":-5},"encoding":{"text":{"field":"t"}}},
    {"transform":[{"filter":"datum.k==='pbb'"}],"mark":{"type":"text","fontSize":21,"fontWeight":"bold","align":"left","baseline":"middle"},"encoding":{"text":{"field":"t"}}},
    {"transform":[{"filter":"datum.k==='psb'"}],"mark":{"type":"text","fontSize":12,"fontWeight":"bold","align":"left","baseline":"middle","dy":-5},"encoding":{"text":{"field":"t"}}},
    {"transform":[{"filter":"datum.k==='lab'"}],"mark":{"type":"text","fontSize":19,"align":"center","baseline":"middle"},"encoding":{"text":{"field":"t"}}},
    {"transform":[{"filter":"datum.k==='sm'"}],"mark":{"type":"text","fontSize":16,"align":"center","baseline":"middle"},"encoding":{"text":{"field":"t"}}},
    {"transform":[{"filter":"datum.k==='bold'"}],"mark":{"type":"text","fontSize":17,"fontWeight":"bold","align":"center","baseline":"middle"},"encoding":{"text":{"field":"t"}}},
    {"transform":[{"filter":"datum.k==='rot'"}],"mark":{"type":"text","fontSize":19,"align":"center","baseline":"middle","angle":345},"encoding":{"text":{"field":"t"}}}
   ]}
 ],"spacing":0,"bounds":"flush"}
],"spacing":12},
{"vconcat":[
  {"width":353,"height":243,"data":{"name":"cT"},
   "encoding":{
    "x":{"field":"x","type":"quantitative","title":null,"scale":{"domain":[16,22],"nice":false,"zero":false},"axis":{"values":[16.5,17,17.5,18,18.5,19,19.5,20,20.5,21,21.5],"format":"~g","labelExpr":"datum.value % 1 === 0 ? datum.label : ''","tickSize":-6,"labelPadding":15,"labelOffset":-6}},
    "y":{"field":"y","type":"quantitative","title":null,"scale":{"domain":[0.102,0.318],"nice":false,"zero":false},"axis":{"values":[0.12,0.2,0.28],"format":".2f","tickSize":-11,"labelPadding":18,"labelFontSize":17}}},
   "layer":[
    {"transform":[{"filter":"datum.p==='per'"}],"mark":{"type":"line","interpolate":"linear-closed","fill":"#DFF4CF","stroke":"#DFF4CF","strokeWidth":0.5},"encoding":{"order":{"field":"i","type":"quantitative"}}},
    {"transform":[{"filter":"datum.p==='oib'"}],"mark":{"type":"line","interpolate":"linear-closed","fill":"#6BC5E1","stroke":"#6BC5E1","strokeWidth":0.5},"encoding":{"order":{"field":"i","type":"quantitative"}}},
    {"transform":[{"filter":"datum.l==='frame'"}],"mark":{"type":"line","stroke":"#231F20","strokeWidth":2,"strokeJoin":"round"},"encoding":{"order":{"field":"i","type":"quantitative"}}},
    {"transform":[{"filter":"datum.s==='K'"}],"mark":{"type":"point","shape":"circle","filled":true,"fill":"#8C8C8C","stroke":"#231F20","strokeWidth":1,"size":170,"opacity":1}},
    {"transform":[{"filter":"datum.s==='M'"}],"mark":{"type":"point","shape":"circle","filled":true,"fill":"#D6D6D6","stroke":"#151515","strokeWidth":2.6,"size":95,"opacity":1}},
    {"transform":[{"filter":"datum.s==='C'"}],"mark":{"type":"point","shape":"diamond","filled":true,"fill":"#FFFFFF","stroke":"#151515","strokeWidth":1,"size":150,"opacity":1}},
    {"transform":[{"filter":"datum.s==='G'"}],"mark":{"type":"point","shape":"square","filled":true,"fill":"#111111","stroke":"#D0202A","strokeWidth":1.2,"size":100,"opacity":1}},
    {"transform":[{"filter":"datum.k==='rb'"}],"mark":{"type":"text","fontSize":21,"align":"left","baseline":"middle","angle":270},"encoding":{"text":{"field":"t"}}},
    {"transform":[{"filter":"datum.k==='rs'"}],"mark":{"type":"text","fontSize":12,"align":"left","baseline":"middle","angle":270,"dy":-5},"encoding":{"text":{"field":"t"}}},
    {"transform":[{"filter":"datum.k==='lab'"}],"mark":{"type":"text","fontSize":20,"align":"center","baseline":"middle"},"encoding":{"text":{"field":"t"}}},
    {"transform":[{"filter":"datum.k==='sm'"}],"mark":{"type":"text","fontSize":18,"align":"center","baseline":"middle"},"encoding":{"text":{"field":"t"}}},
    {"transform":[{"filter":"datum.k==='ttl'"}],"mark":{"type":"text","fontSize":30,"fontWeight":"bold","align":"center","baseline":"middle"},"encoding":{"text":{"field":"t"}}}
   ]},
  {"width":353,"height":245,"data":{"name":"cB"},
   "encoding":{
    "x":{"field":"x","type":"quantitative","title":null,"scale":{"domain":[16,22],"nice":false,"zero":false},"axis":{"values":[17,18,19,20,21],"tickSize":-8,"labelPadding":18,"labelOffset":-6}},
    "y":{"field":"y","type":"quantitative","title":null,"scale":{"type":"log","domain":[0.098,105],"nice":false},"axis":{"values":[1,10],"format":"~g","tickSize":-11,"labelPadding":17,"labelFontSize":17}}},
   "layer":[
    {"transform":[{"filter":"datum.s==='K'"}],"mark":{"type":"point","shape":"circle","filled":true,"fill":"#8C8C8C","stroke":"#231F20","strokeWidth":1,"size":170,"opacity":1}},
    {"transform":[{"filter":"datum.s==='M'"}],"mark":{"type":"point","shape":"circle","filled":true,"fill":"#D6D6D6","stroke":"#151515","strokeWidth":2.6,"size":95,"opacity":1}},
    {"transform":[{"filter":"datum.s==='C'"}],"mark":{"type":"point","shape":"diamond","filled":true,"fill":"#FFFFFF","stroke":"#151515","strokeWidth":1,"size":150,"opacity":1}},
    {"transform":[{"filter":"datum.s==='G'"}],"mark":{"type":"point","shape":"square","filled":true,"fill":"#111111","stroke":"#D0202A","strokeWidth":1.2,"size":100,"opacity":1}},
    {"transform":[{"filter":"datum.k==='rb'"}],"mark":{"type":"text","fontSize":21,"align":"left","baseline":"middle","angle":270},"encoding":{"text":{"field":"t"}}},
    {"transform":[{"filter":"datum.k==='rs'"}],"mark":{"type":"text","fontSize":12,"align":"left","baseline":"middle","angle":270,"dy":-5},"encoding":{"text":{"field":"t"}}},
    {"transform":[{"filter":"datum.k==='pb'"}],"mark":{"type":"text","fontSize":21,"align":"left","baseline":"middle"},"encoding":{"text":{"field":"t"}}},
    {"transform":[{"filter":"datum.k==='ps'"}],"mark":{"type":"text","fontSize":12,"align":"left","baseline":"middle","dy":-5},"encoding":{"text":{"field":"t"}}}
   ]}
 ],"spacing":26,"bounds":"flush"}
],
"spacing":5
}
